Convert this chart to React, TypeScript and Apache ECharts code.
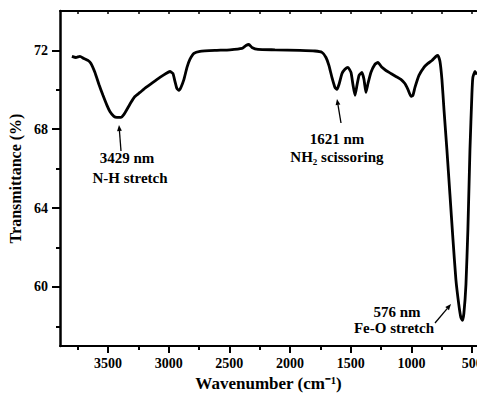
import React, { useEffect, useRef } from "react";
import * as echarts from "echarts";

// Spectrum (wavenumber cm-1, transmittance %)
const wavenumber = [
  3797, 3764, 3731, 3698, 3665, 3640, 3607, 3574, 3541, 3508, 3484, 3451, 3426, 3393, 3368, 3344,
  3311, 3278, 3236, 3187, 3129, 3072, 3022, 2989, 2965, 2948, 2932, 2915, 2899, 2874, 2849, 2825,
  2792, 2742, 2619, 2495, 2396, 2363, 2339, 2314, 2264, 2124, 1919, 1795, 1737, 1704, 1680, 1655,
  1630, 1614, 1597, 1572, 1548, 1523, 1498, 1482, 1465, 1449, 1432, 1408, 1391, 1375, 1358, 1334,
  1301, 1276, 1243, 1210, 1169, 1128, 1087, 1054, 1029, 1004, 988, 971, 938, 897, 864, 831,
  798, 782, 765, 749, 732, 708, 683, 658, 634, 609, 593, 580, 568, 551, 535, 518,
  502, 494, 477, 461,
];
const transmittance = [
  71.70, 71.64, 71.70, 71.59, 71.49, 71.34, 70.88, 70.27, 69.72, 69.21, 68.90, 68.65, 68.60, 68.60, 68.75, 69.00,
  69.36, 69.66, 69.87, 70.12, 70.38, 70.63, 70.83, 70.93, 70.83, 70.43, 70.07, 69.97, 70.12, 70.53, 71.14, 71.54,
  71.85, 71.95, 72.00, 72.03, 72.10, 72.25, 72.30, 72.15, 72.05, 72.03, 72.00, 71.97, 71.90, 71.64, 71.24, 70.63,
  70.12, 70.02, 70.27, 70.83, 71.04, 71.14, 70.88, 70.27, 69.72, 70.22, 70.73, 70.88, 70.53, 69.87, 70.32, 70.88,
  71.29, 71.39, 71.14, 70.98, 70.83, 70.68, 70.53, 70.32, 70.02, 69.67, 69.72, 70.12, 70.73, 71.14, 71.34, 71.49,
  71.70, 71.75, 71.44, 70.53, 69.00, 66.97, 64.69, 62.41, 60.38, 59.06, 58.45, 58.30, 58.65, 60.12, 62.91, 66.97,
  69.77, 70.63, 70.93, 70.78,
];

const xMajorTicks = [500, 1000, 1500, 2000, 2500, 3000, 3500];
const xMinorTicks = [750, 1250, 1750, 2250, 2750, 3250, 3750];
const xTopTicks = [500, 750, 1000, 1250, 1500, 1750, 2000, 2250, 2500, 2750, 3000, 3250, 3500, 3750];
const yMajorTicks = [60, 64, 68, 72];
const yMinorTicks = [58, 62, 66, 70];

const xTitle = "Wavenumber (cm\u207B\u00B9)";
const yTitle = "Transmittance (%)";
const annotationTexts = [
  ["3429 nm", "N-H stretch"],
  ["1621 nm", "NH\u2082 scissoring"],
  ["576 nm", "Fe-O stretch"],
];

const FONT = "'Liberation Serif', 'Times New Roman', serif";

function arrow(x1: number, y1: number, x2: number, y2: number, head = true) {
  const dx = x2 - x1;
  const dy = y2 - y1;
  const len = Math.sqrt(dx * dx + dy * dy);
  const ux = dx / len;
  const uy = dy / len;
  const hl = 6;
  const hw = 2.4;
  const bx = x2 - ux * hl;
  const by = y2 - uy * hl;
  const els: any[] = [
    {
      type: "line",
      shape: { x1, y1, x2: head ? bx : x2, y2: head ? by : y2 },
      style: { stroke: "#000", lineWidth: 1.3 },
    },
  ];
  if (head) {
    els.push({
      type: "polygon",
      shape: {
        points: [
          [x2, y2],
          [bx - uy * hw, by + ux * hw],
          [bx + uy * hw, by - ux * hw],
        ],
      },
      style: { fill: "#000" },
    });
  }
  return els;
}

function label(text: string, x: number, y: number) {
  return {
    type: "text",
    style: {
      text,
      x,
      y,
      fill: "#000",
      fontFamily: FONT,
      fontWeight: "bold",
      fontSize: 15,
      align: "center",
      verticalAlign: "middle",
    },
  };
}

export default function App() {
  const ref = useRef<HTMLDivElement>(null);
  useEffect(() => {
    if (!ref.current) return;
    const chart = echarts.init(ref.current, null, { renderer: "svg" });
    const data = wavenumber.map((w, i) => [w, transmittance[i]]);
    const xCommon = {
      type: "value" as const,
      min: 460,
      max: 3895,
      inverse: true,
      gridIndex: 0,
      splitLine: { show: false },
    };
    const yCommon = {
      type: "value" as const,
      min: 57,
      max: 74,
      gridIndex: 0,
      splitLine: { show: false },
    };
    chart.setOption({
      animation: false,
      backgroundColor: "#fff",
      grid: { left: 60, right: 0, top: 11, bottom: 47, containLabel: false, outerBoundsMode: "none" },
      xAxis: [
        {
          ...xCommon,
          position: "bottom",
          axisLine: { show: true, lineStyle: { color: "#000", width: 2 } },
          axisTick: { show: true, customValues: xMajorTicks, length: 7, inside: false, lineStyle: { color: "#000", width: 2 } },
          axisLabel: {
            show: true,
            customValues: xMajorTicks,
            formatter: (v: number) => String(v),
            color: "#000",
            fontFamily: FONT,
            fontWeight: "bold",
            fontSize: 14,
            margin: 10,
            hideOverlap: false,
          },
          name: xTitle,
          nameLocation: "middle",
          nameGap: 28,
          nameTextStyle: { color: "#000", fontFamily: FONT, fontWeight: "bold", fontSize: 17 },
        },
        {
          ...xCommon,
          position: "bottom",
          axisLine: { show: false },
          axisTick: { show: true, customValues: xMinorTicks, length: 4, inside: false, lineStyle: { color: "#000", width: 2 } },
          axisLabel: { show: false },
        },
        {
          ...xCommon,
          position: "top",
          axisLine: { show: true, lineStyle: { color: "#000", width: 2 } },
          axisTick: { show: true, customValues: xTopTicks, length: 3, inside: true, lineStyle: { color: "#000", width: 1.5 } },
          axisLabel: { show: false },
        },
      ],
      yAxis: [
        {
          ...yCommon,
          position: "left",
          axisLine: { show: true, lineStyle: { color: "#000", width: 2.5 } },
          axisTick: { show: true, customValues: yMajorTicks, length: 8, inside: false, lineStyle: { color: "#000", width: 2 } },
          axisLabel: {
            show: true,
            customValues: yMajorTicks,
            formatter: (v: number) => String(v),
            color: "#000",
            fontFamily: FONT,
            fontWeight: "bold",
            fontSize: 14,
            margin: 12,
          },
          name: yTitle,
          nameLocation: "middle",
          nameRotate: 90,
          nameGap: 33,
          nameTextStyle: { color: "#000", fontFamily: FONT, fontWeight: "bold", fontSize: 16 },
        },
        {
          ...yCommon,
          position: "left",
          axisLine: { show: false },
          axisTick: { show: true, customValues: yMinorTicks, length: 4, inside: false, lineStyle: { color: "#000", width: 2 } },
          axisLabel: { show: false },
        },
      ],
      series: [
        {
          type: "line",
          xAxisIndex: 0,
          yAxisIndex: 0,
          data,
          showSymbol: false,
          symbol: "none",
          smooth: 0.15,
          lineStyle: { color: "#000", width: 2.8 },
          clip: true,
        },
      ],
      graphic: [
        label(annotationTexts[0][0], 127, 158),
        label(annotationTexts[0][1], 130, 178),
        ...arrow(121, 151, 119, 125),
        label(annotationTexts[1][0], 337, 139),
        label(annotationTexts[1][1], 337, 157),
        ...arrow(341, 123, 337, 99),
        label(annotationTexts[2][0], 397, 312),
        label(annotationTexts[2][1], 394, 328),
        ...arrow(435, 323, 451, 304),
      ],
    });
    return () => chart.dispose();
  }, []);
  return <div ref={ref} style={{ position: "fixed", left: 0, top: 0, width: 477, height: 393 }} />;
}
